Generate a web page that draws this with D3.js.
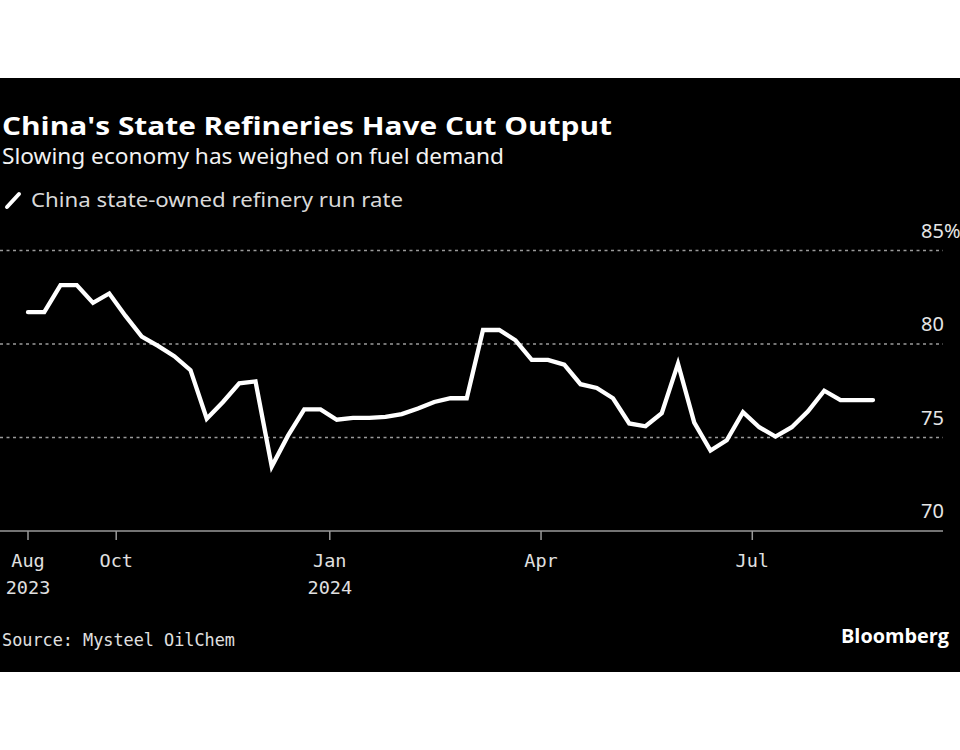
<!DOCTYPE html>
<html>
<head>
<meta charset="utf-8">
<script src="https://cdn.jsdelivr.net/npm/d3@7"></script>
<style>
  html, body { margin: 0; padding: 0; background: #ffffff; }
  svg { display: block; }
</style>
</head>
<body>
<svg id="chart" width="960" height="750"></svg>
<script>
// ---- data ----
const title = "China's State Refineries Have Cut Output";
const subtitle = "Slowing economy has weighed on fuel demand";
const seriesName = "China state-owned refinery run rate";
const source = "Source: Mysteel OilChem";
const startDate = "2023-08-24"; // first weekly observation
const runRate = [
  81.7, 81.7, 83.15, 83.15, 82.2, 82.7, 81.5, 80.4, 79.9, 79.35,
  78.6, 76.0, 76.9, 77.9, 78.0, 73.45, 75.1, 76.5, 76.5, 75.95,
  76.05, 76.05, 76.1, 76.25, 76.55, 76.9, 77.1, 77.1, 80.75, 80.75,
  80.2, 79.15, 79.15, 78.9, 77.85, 77.65, 77.1, 75.75, 75.6, 76.3,
  78.95, 75.8, 74.3, 74.85, 76.35, 75.55, 75.05, 75.55, 76.4, 77.5,
  77.0, 77.0, 77.0
];
const yTicks = [70, 75, 80, 85];
const xTickDates = ["2023-08-24", "2023-10-01", "2024-01-01", "2024-04-01", "2024-07-01"];
const xTickLabels = [["Aug", "2023"], ["Oct"], ["Jan", "2024"], ["Apr"], ["Jul"]];

// ---- build ----
const parse = d3.utcParse("%Y-%m-%d");
const t0 = parse(startDate);
const data = runRate.map((v, i) => ({ date: d3.utcDay.offset(t0, 7 * i), value: v }));

const svg = d3.select("#chart");
svg.append("rect").attr("x", 0).attr("y", 78).attr("width", 960).attr("height", 594).attr("fill", "#000");

const x = d3.scaleUtc()
  .domain([data[0].date, data[data.length - 1].date])
  .range([28, 873]);
const y = d3.scaleLinear().domain([70, 85]).range([531, 250.5]);

// Titles
function fitText(sel, w) {
  const n = sel.node();
  const l = n.getComputedTextLength();
  if (Math.abs(l - w) > 2) sel.attr("textLength", w).attr("lengthAdjust", "spacingAndGlyphs");
}
fitText(svg.append("text").attr("x", 2).attr("y", 135)
  .attr("font-family", "'Open Sans', 'DejaVu Sans', sans-serif").attr("font-weight", 700)
  .attr("font-size", 25).attr("fill", "#fff").text(title), 610);
fitText(svg.append("text").attr("x", 2).attr("y", 164)
  .attr("font-family", "'Noto Sans', 'Open Sans', sans-serif")
  .attr("font-size", 21).attr("fill", "#f2f2f2").text(subtitle), 502);

// Legend
svg.append("line").attr("x1", 7).attr("y1", 207).attr("x2", 19).attr("y2", 194)
  .attr("stroke", "#fff").attr("stroke-width", 4).attr("stroke-linecap", "round");
fitText(svg.append("text").attr("x", 31).attr("y", 207)
  .attr("font-family", "'Noto Sans', 'Open Sans', sans-serif")
  .attr("font-size", 19.5).attr("fill", "#d9d9d9").text(seriesName), 372);

// Gridlines
const grid = svg.append("g");
grid.selectAll("line").data(yTicks.filter(d => d !== 70)).join("line")
  .attr("x1", 0).attr("x2", 943)
  .attr("y1", d => y(d)).attr("y2", d => y(d))
  .attr("stroke", "#9a9a9a").attr("stroke-width", 1.5).attr("stroke-dasharray", "3,3.5");

// Y labels
svg.append("g").selectAll("text").data(yTicks).join("text")
  .attr("x", 921).attr("y", d => y(d) - 13)
  .attr("font-family", "'Noto Sans', 'Open Sans', sans-serif")
  .attr("font-size", 20).attr("fill", "#e6e6e6")
  .text(d => d === 85 ? d + "%" : d);

// X axis
const xAxisG = svg.append("g").attr("transform", "translate(0,531)");
xAxisG.append("line").attr("x1", 0).attr("x2", 943).attr("stroke", "#9a9a9a").attr("stroke-width", 1.5);
const tickDates = xTickDates.map(parse);
const ticks = xAxisG.selectAll("g.tick").data(tickDates).join("g").attr("class", "tick")
  .attr("transform", d => `translate(${x(d)},0)`);
ticks.append("line").attr("y1", 0).attr("y2", 9).attr("stroke", "#9a9a9a").attr("stroke-width", 1.5);
ticks.each(function(d, i) {
  const g = d3.select(this);
  xTickLabels[i].forEach((lab, j) => {
    g.append("text").attr("x", 0).attr("y", 36 + j * 27)
      .attr("text-anchor", "middle")
      .attr("font-family", "'DejaVu Sans Mono', 'Liberation Mono', monospace")
      .attr("font-size", 18.5).attr("fill", "#e0e0e0").text(lab);
  });
});

// Line
svg.append("path").datum(data)
  .attr("d", d3.line().x(d => x(d.date)).y(d => y(d.value)))
  .attr("fill", "none").attr("stroke", "#fff").attr("stroke-width", 4.3)
  .attr("stroke-linejoin", "miter").attr("stroke-linecap", "round");

// Footer
fitText(svg.append("text").attr("x", 2).attr("y", 646)
  .attr("font-family", "'DejaVu Sans Mono', 'Liberation Mono', monospace")
  .attr("font-size", 18).attr("fill", "#e0e0e0").text(source), 233);
fitText(svg.append("text").attr("x", 949).attr("y", 643).attr("text-anchor", "end")
  .attr("font-family", "'Open Sans', 'DejaVu Sans', sans-serif").attr("font-weight", 700)
  .attr("font-size", 19).attr("fill", "#fff").text("Bloomberg"), 108);
</script>
</body>
</html>
